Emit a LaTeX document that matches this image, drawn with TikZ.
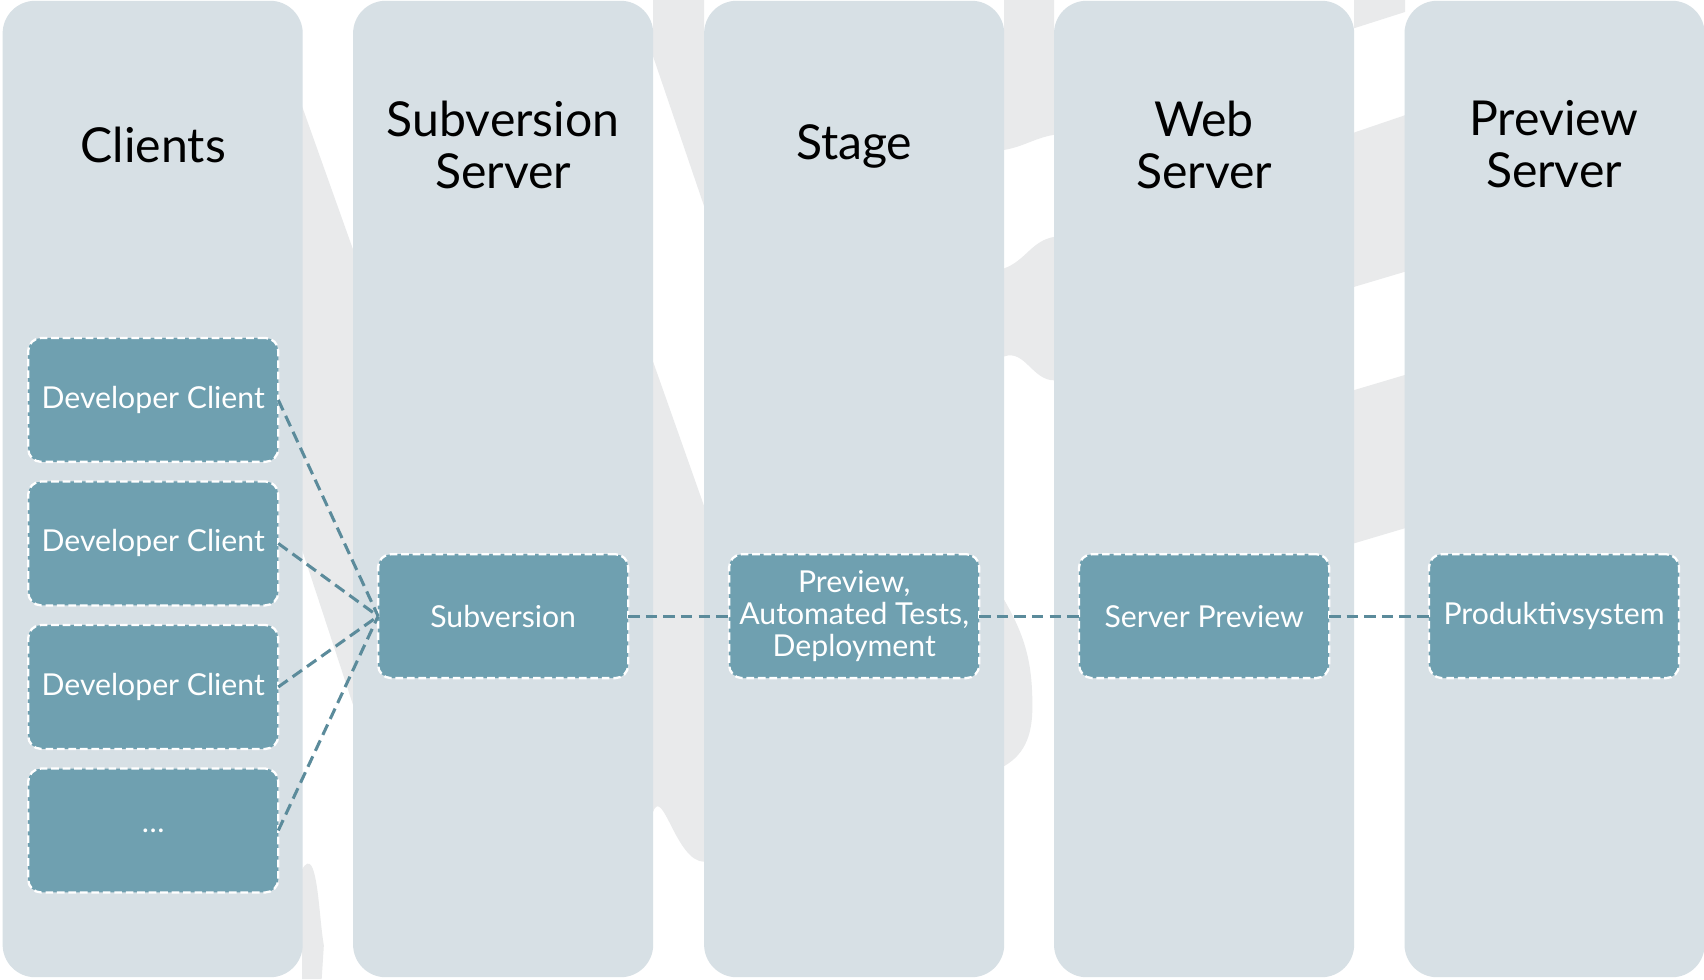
\documentclass[tikz,border=0pt]{standalone}
\usepackage{fontspec}
\setmainfont{Lato}
\usepackage{xcolor}
\usepackage{tikz}
\usetikzlibrary{positioning,calc}
\definecolor{lanegray}{HTML}{D7E0E5}
\definecolor{boxteal}{HTML}{6FA0B0}
\definecolor{linkteal}{HTML}{5B8B9B}
\definecolor{markgray}{HTML}{E9EAEB}

\begin{document}
\begin{tikzpicture}[
    x=0.01cm, y=-0.01cm,
    lane/.style={rectangle, rounded corners=0.3cm, fill=lanegray, minimum width=2.76cm, minimum height=8.98cm, inner sep=0pt, outer sep=0pt},
    title/.style={align=center, font=\fontsize{12.6}{13.6}\selectfont, text=black},
    proc/.style={rectangle, rounded corners=0.12cm, fill=boxteal, draw=white, dash pattern=on 2pt off 1pt, line width=0.6pt, minimum width=2.30cm, minimum height=1.14cm, align=center, text=white, font=\fontsize{7.9}{8.3}\selectfont, inner sep=1pt, outer sep=0pt},
    link/.style={draw=linkteal, dash pattern=on 3pt off 1.6pt, line width=0.8pt}
]
    \useasboundingbox[fill=white] (0,0) rectangle (1568,901);

    % watermark behind the lanes
    \fill[markgray] (278,98) -- (325,230) -- (325,649) -- (278,506) -- cycle;
    \fill[markgray] (278,800) to[out=60,in=100] (298,870) -- (296,901) -- (278,901) -- cycle;
    \fill[markgray] (601,0) -- (648,0) -- (648,190) -- (601,52) -- cycle;
    \fill[markgray] (601,333) -- (648,466) -- (648,793) to[out=180,in=70] (601,747) -- cycle;
    \fill[markgray] (924,0) -- (970,0) -- (970,124) to[out=190,in=10] (924,138) -- cycle;
    \fill[markgray] (924,247) to[out=20,in=190] (970,218) -- (970,350) to[out=180,in=20] (924,328) -- cycle;
    \fill[markgray] (924,552) to[out=-60,in=90] (950,650) to[out=-90,in=30] (924,705) -- cycle;
    \fill[markgray] (1246,0) -- (1293,0) -- (1293,11) -- (1246,26) -- cycle;
    \fill[markgray] (1246,122) -- (1293,106) -- (1293,250) -- (1246,264) -- cycle;
    \fill[markgray] (1246,359) -- (1293,345) -- (1293,486) -- (1246,500) -- cycle;

    % lanes
    \node[lane] (clients) at (140.5,450) {};
    \node[lane] (svnserver) at (463,450) {};
    \node[lane] (stage) at (786,450) {};
    \node[lane] (webserver) at (1108,450) {};
    \node[lane] (previewserver) at (1430.5,450) {};

    \node[title] (clientsT) at (141,133) {Clients};
    \node[title] (svnserverT) at (463,133) {Subversion\\Server};
    \node[title] (stageT) at (786,135) {Stage};
    \node[title] (webserverT) at (1108,133) {Web\\Server};
    \node[title] (previewserverT) at (1430,133) {Preview\\Server};

    % boxes
    \node[proc] (dev1) at (141,368) {Developer Client};
    \node[proc, below=0.18cm of dev1] (dev2) {Developer Client};
    \node[proc, below=0.18cm of dev2] (dev3) {Developer Client};
    \node[proc, below=0.18cm of dev3] (devmore) {\dots};

    \node[proc] (svn) at (463,567) {Subversion};
    \node[proc] (deploy) at (786,567) {Preview,\\Automated Tests,\\Deployment};
    \node[proc] (srvpreview) at (1108,567) {Server Preview};
    \node[proc] (prod) at (1430,567) {Produktivsystem};

    % connectors
    \draw[link] (dev1.east) -- (svn.west);
    \draw[link] (dev2.east) -- (svn.west);
    \draw[link] (dev3.east) -- (svn.west);
    \draw[link] (devmore.east) -- (svn.west);
    \draw[link] (svn) -- (deploy);
    \draw[link] (deploy) -- (srvpreview);
    \draw[link] (srvpreview) -- (prod);
\end{tikzpicture}
\end{document}
